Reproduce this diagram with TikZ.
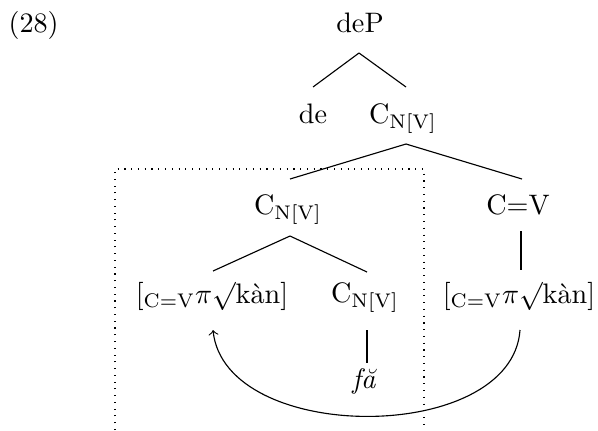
\documentclass[tikz,border=0pt]{standalone}
\usepackage{fontspec}
\usetikzlibrary{calc}
\begin{document}
\begin{tikzpicture}[x=0.355pt,y=-0.355pt,
  lab/.style={anchor=base,inner sep=0pt},
  branch/.style={line width=0.4pt},
  dombox/.style={dotted,line width=0.4pt},
  movearc/.style={line width=0.4pt,->},
]
\useasboundingbox (0,0) rectangle (598,430);

% example number
\node[lab,anchor=base west] (ex) at (8,32) {(28)};

% tree nodes (positions are baseline centres)
\node[lab] (deP) at (360,32)  {deP};
\node[lab] (de)  at (313,123) {de};
\node[lab] (cn1) at (403,123) {C\textsubscript{N[V]}};
\node[lab] (cn2) at (288,214) {C\textsubscript{N[V]}};
\node[lab] (cv)  at (518,214) {C=V};
\node[lab] (rt1) at (212,303) {[\textsubscript{C=V}$\pi\surd$kàn]};
\node[lab] (cn3) at (365,302) {C\textsubscript{N[V]}};
\node[lab] (rt2) at (519,303) {[\textsubscript{C=V}$\pi\surd$kàn]};
\node[lab] (fa)  at (364,388) {\itshape fă};

% branches
\draw[branch] ($(deP.base)+(-1,21)$) -- ($(de.base)+(0,-36)$);
\draw[branch] ($(deP.base)+(-1,21)$) -- ($(cn1.base)+(3,-36)$);
\draw[branch] ($(cn1.base)+(3,21)$) -- ($(cn2.base)+(2,-35)$);
\draw[branch] ($(cn1.base)+(3,21)$) -- ($(cv.base)+(4,-35)$);
\draw[branch] ($(cn2.base)+(2,22)$) -- ($(rt1.base)+(1,-32)$);
\draw[branch] ($(cn2.base)+(2,22)$) -- ($(cn3.base)+(2,-30)$);
\draw[branch] ($(cv.base)+(3,17)$) -- ($(rt2.base)+(2,-33)$);
\draw[branch] ($(cn3.base)+(2,28)$) -- ($(fa.base)+(3,-25)$);

% dotted domain, open at the bottom
\coordinate (dl) at (115,430);
\coordinate (dr) at (424,430);
\draw[dombox] (dl) -- (115,169) -- (424,169) -- (dr);

% movement arrow
\draw[movearc] ($(rt2.base)+(1,27)$) .. controls +(-8,115) and +(12,115) .. ($(rt1.base)+(1,27)$);
\end{tikzpicture}
\end{document}
